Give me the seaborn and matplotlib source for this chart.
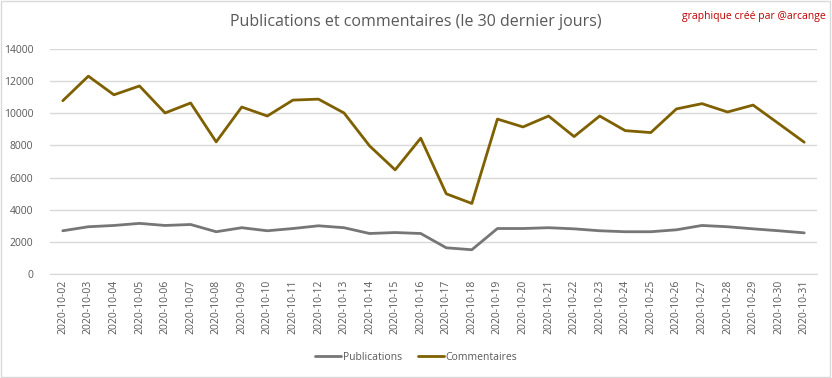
import pandas as pd
import matplotlib.pyplot as plt
import seaborn as sns
from matplotlib.lines import Line2D

# Data
dates = ["2020-10-%02d" % d for d in range(2, 32)]
publications = [2690, 2940, 3020, 3150, 3020, 3080, 2630, 2880, 2690, 2830,
                3000, 2880, 2520, 2580, 2520, 1630, 1510, 2830, 2830, 2880,
                2810, 2690, 2630, 2630, 2750, 3020, 2940, 2810, 2690, 2560]
commentaires = [10780, 12310, 11150, 11700, 10020, 10640, 8220, 10390, 9830, 10820,
                10880, 10020, 7970, 6480, 8450, 4990, 4390, 9640, 9150, 9830,
                8550, 9830, 8920, 8800, 10270, 10600, 10080, 10510, 9360, 8200]

df = pd.DataFrame({"Date": dates * 2,
                   "Valeur": publications + commentaires,
                   "Série": ["Publications"] * len(dates) + ["Commentaires"] * len(dates)})

sns.set_style("white")
plt.rcParams["font.family"] = ["Open Sans", "DejaVu Sans"]

fig = plt.figure(figsize=(8.32, 3.78), dpi=100)
ax = fig.add_axes([50 / 832, 1 - 274 / 378, 767 / 832, 225 / 378])

sns.lineplot(data=df, x="Date", y="Valeur", hue="Série",
             palette={"Publications": "#767676", "Commentaires": "#7f6000"},
             linewidth=2, ax=ax, legend=False)

ax.set_xlim(-0.5, len(dates) - 0.5)
ax.set_ylim(0, 14000)
ax.set_yticks(range(0, 14001, 2000))
ax.yaxis.grid(True, color="#d9d9d9", linewidth=1)
ax.set_axisbelow(True)
for s in ["left", "right", "top"]:
    ax.spines[s].set_visible(False)
ax.spines["bottom"].set_color("#d9d9d9")
ax.set_xlabel("")
ax.set_ylabel("")
ax.set_xticks(range(len(dates)))
ax.set_xticklabels(dates, rotation=90, fontsize=7.5, color="#595959")
ax.tick_params(axis="y", labelsize=7.5, labelcolor="#595959", length=0, pad=12)
ax.tick_params(axis="x", length=0, pad=4)

fig.text(416 / 832, 1 - 22 / 378, "Publications et commentaires (le 30 dernier jours)",
         ha="center", va="center", fontsize=11.5, color="#595959")
fig.text(826 / 832, 1 - 16 / 378, "graphique créé par @arcange",
         ha="right", va="center", fontsize=7.5, color="#c00000")

# legend
handles = [Line2D([], [], color="#767676", lw=2), Line2D([], [], color="#7f6000", lw=2)]
fig.legend(handles, ["Publications", "Commentaires"], loc="center",
           bbox_to_anchor=(0.5, 1 - 357 / 378), ncol=2, frameon=False,
           fontsize=7.5, labelcolor="#595959", handlelength=2.5,
           handletextpad=0.2, columnspacing=1.5)

# outer border
fig.patches.append(plt.Rectangle((0.001, 0.002), 0.997, 0.995, transform=fig.transFigure,
                                 fill=False, edgecolor="#d9d9d9", linewidth=1))

fig.savefig("out.png", dpi=100)
